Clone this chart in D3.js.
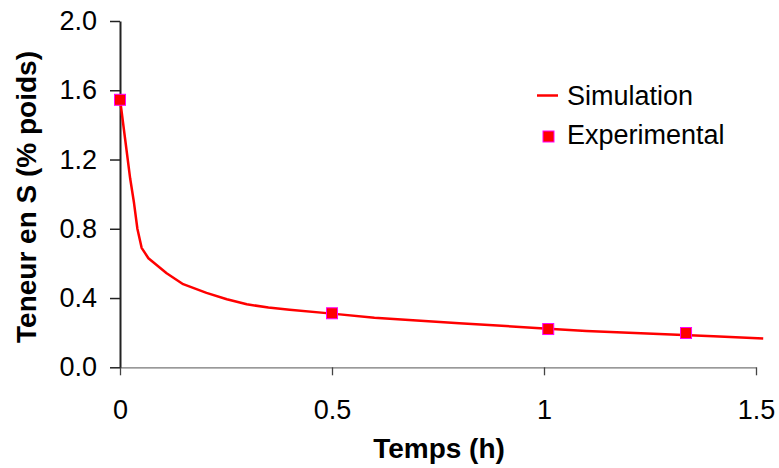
<!DOCTYPE html>
<html><head><meta charset="utf-8">
<script src="https://cdn.jsdelivr.net/npm/d3@7"></script>
<style>body{margin:0;background:#fff}svg{display:block}</style>
</head><body>
<svg id="c" width="779" height="468"></svg>
<script>
// Data
const simTime = [0, 0.012, 0.024, 0.033, 0.041, 0.051, 0.067, 0.11, 0.149, 0.204, 0.252, 0.299, 0.35, 0.4, 0.5, 0.6, 0.7, 0.8, 0.9, 1.0, 1.1, 1.2, 1.3, 1.4, 1.517];
const simS    = [1.55, 1.32, 1.09, 0.95, 0.80, 0.69, 0.63, 0.543, 0.48, 0.43, 0.393, 0.364, 0.345, 0.333, 0.31, 0.286, 0.27, 0.255, 0.24, 0.224, 0.21, 0.2, 0.19, 0.18, 0.167];
const expTime = [0, 0.5, 1.01, 1.335];
const expS    = [1.545, 0.312, 0.221, 0.198];
const yTicks = [0, 0.4, 0.8, 1.2, 1.6, 2.0];
const xTicks = [0, 0.5, 1, 1.5];
const seriesNames = ["Simulation", "Experimental"];

const svg = d3.select("#c");
const font = "Liberation Sans, Arial, sans-serif";
const x = d3.scaleLinear().domain([0, 1.5]).range([120, 756]);
const y = d3.scaleLinear().domain([0, 2]).range([367.3, 21]);

// x axis
const gx = svg.append("g").attr("transform", "translate(0,367.3)")
  .call(d3.axisBottom(x).tickValues(xTicks).tickFormat(d3.format("")).tickSize(8).tickPadding(25).tickSizeOuter(0));
gx.select(".domain").attr("stroke", "#777").attr("stroke-width", 1.3);
gx.selectAll(".tick line").attr("stroke", "#444").attr("stroke-width", 1.3);
gx.selectAll("text").attr("font-family", font).attr("font-size", 27).attr("fill", "#000");

// y axis
const gy = svg.append("g").attr("transform", "translate(120,0)")
  .call(d3.axisLeft(y).tickValues(yTicks).tickFormat(d3.format(".1f")).tickSize(10).tickPadding(13).tickSizeOuter(0));
gy.select(".domain").attr("stroke", "#222").attr("stroke-width", 2);
gy.selectAll(".tick line").attr("stroke", "#222").attr("stroke-width", 1.5);
gy.selectAll("text").attr("font-family", font).attr("font-size", 27).attr("fill", "#000");

// titles
svg.append("text").attr("x", 439).attr("y", 458).attr("text-anchor", "middle")
  .attr("font-family", font).attr("font-size", 28).attr("font-weight", "bold").text("Temps (h)");
svg.append("text").attr("transform", "translate(36,197) rotate(-90)").attr("text-anchor", "middle")
  .attr("font-family", font).attr("font-size", 28).attr("font-weight", "bold").text("Teneur en S (% poids)");

// simulation line
const line = d3.line().x((d, i) => x(simTime[i])).y((d, i) => y(simS[i]));
svg.append("path").datum(simS).attr("d", line).attr("fill", "none")
  .attr("stroke", "#FF0000").attr("stroke-width", 2.5).attr("stroke-linejoin", "round");

// experimental markers
const ms = 11;
svg.selectAll("rect.exp").data(expS).enter().append("rect").attr("class", "exp")
  .attr("x", (d, i) => x(expTime[i]) - ms / 2).attr("y", d => y(d) - ms / 2)
  .attr("width", ms).attr("height", ms).attr("fill", "#FF0000").attr("stroke", "#FF00FF").attr("stroke-width", 1);

// legend
svg.append("line").attr("x1", 537).attr("x2", 558).attr("y1", 95.5).attr("y2", 95.5)
  .attr("stroke", "#FF0000").attr("stroke-width", 2.5);
svg.append("text").attr("x", 567).attr("y", 105).attr("font-family", font).attr("font-size", 27).text(seriesNames[0]);
svg.append("rect").attr("x", 543).attr("y", 131).attr("width", 11).attr("height", 11)
  .attr("fill", "#FF0000").attr("stroke", "#FF00FF").attr("stroke-width", 1);
svg.append("text").attr("x", 567).attr("y", 144).attr("font-family", font).attr("font-size", 27).text(seriesNames[1]);
</script>
</body></html>
